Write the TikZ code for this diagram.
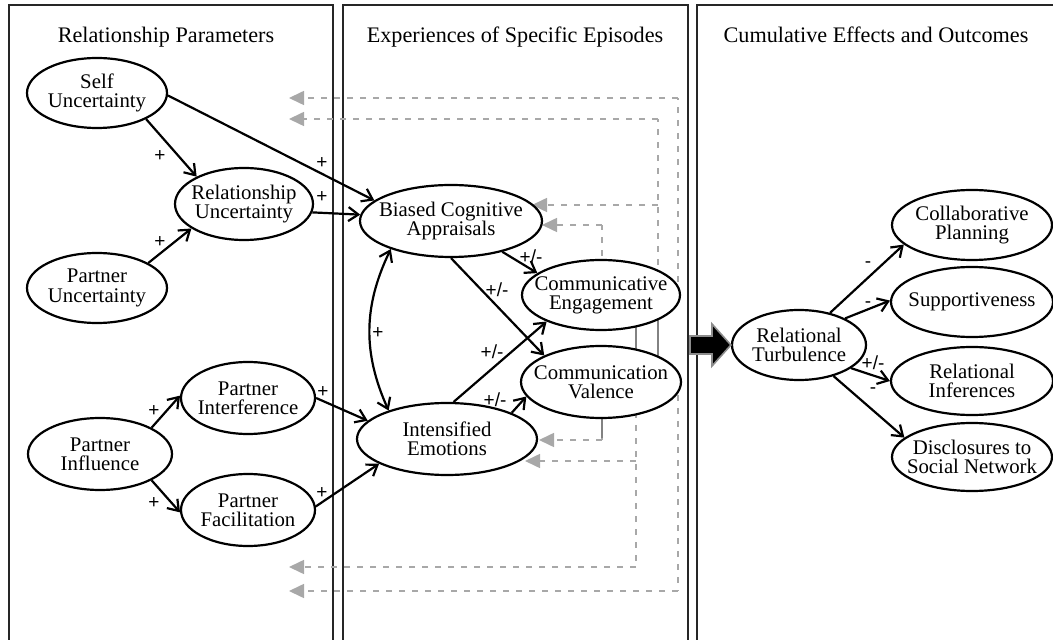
\documentclass[tikz,border=0pt]{standalone}
\usepackage{fontspec}
\setmainfont{Liberation Serif}
\newfontfamily\signfont{Liberation Sans}
\usetikzlibrary{shapes.geometric,arrows.meta,backgrounds}

\definecolor{fbgray}{RGB}{168,168,168}
\definecolor{fbbar}{RGB}{130,130,130}
\newcommand{\boxfont}{\fontsize{10.4}{9.6}\selectfont}

\tikzset{
  construct/.style 2 args={ellipse, draw, line width=1.1pt, fill=white,
    inner xsep=-40pt, inner ysep=-20pt, minimum width=#1pt, minimum height=#2pt,
    align=center, font=\boxfont},
  effect/.style={line width=1.1pt, -{Straight Barb[length=5pt,width=7pt,line width=1.1pt]}},
  fbline/.style={draw=fbgray, line width=0.8pt, dash pattern=on 3pt off 3.5pt},
  feedback/.style={fbline, -{Triangle[length=7.5pt,width=7pt]}},
  barline/.style={draw=fbbar, line width=1.2pt},
  sign/.style={font=\signfont\fontsize{9.5}{9.5}\selectfont, inner sep=0pt},
  panel/.style={draw=black!85, line width=1.2pt},
  heading/.style={font=\fontsize{11.1}{13}\selectfont, anchor=base},
}

\begin{document}
\begin{tikzpicture}[x=0.5pt, y=-0.5pt]
  \useasboundingbox (0,0) rectangle (1053,640);

  % Column headings
  \node[heading] (headParams) at (166,43) {Relationship Parameters};
  \node[heading] (headEpisodes) at (515,43) {Experiences of Specific Episodes};
  \node[heading] (headOutcomes) at (876,43) {Cumulative Effects and Outcomes};

  % Relationship parameters
  \node[construct={70}{35}] (selfunc) at (97,93) {Self\\Uncertainty};
  \node[construct={69}{36}] (relunc) at (244,204) {Relationship\\Uncertainty};
  \node[construct={70}{35}] (partunc) at (97,288) {Partner\\Uncertainty};
  \node[construct={72}{36}] (partinf) at (100,454) {Partner\\Influence};
  \node[construct={67}{36}] (partintf) at (248,398) {Partner\\Interference};
  \node[construct={67}{36}] (partfac) at (248,510) {Partner\\Facilitation};

  % Specific episodes
  \node[construct={91}{36}] (biased) at (451,221) {Biased Cognitive\\Appraisals};
  \node[construct={90}{36}] (intemo) at (447,439) {Intensified\\Emotions};
  \node[construct={79}{35}] (commeng) at (601,295) {Communicative\\Engagement};
  \node[construct={80}{36}] (commval) at (601,382) {Communication\\Valence};

  % Outcomes
  \node[construct={67}{35}] (turb) at (799,345) {Relational\\Turbulence};
  \node[construct={80}{35}] (collab) at (972,225) {Collaborative\\Planning};
  \node[construct={81}{35}] (support) at (972,302) {Supportiveness};
  \node[construct={81}{34}] (infer) at (972,381) {Relational\\Inferences};
  \node[construct={80}{34}] (discl) at (972,457) {Disclosures to\\Social Network};

  % Paths
  \draw[effect] (selfunc.-28) -- (relunc.150);
  \draw[effect] (selfunc.-2) -- (biased.165);
  \draw[effect] (relunc.-7) -- (biased.176);
  \draw[effect] (partunc.26) -- (relunc.205);
  \draw[effect] (partinf.27) -- (partintf.178);
  \draw[effect] (partinf.-27) -- (partfac.182);
  \draw[effect] (partintf.0) -- (intemo.167);
  \draw[effect] (partfac.3) -- (intemo.200);
  \draw[effect, {Straight Barb[length=5pt,width=7pt,line width=1.1pt]}-{Straight Barb[length=5pt,width=7pt,line width=1.1pt]}]
    (biased.205) to[bend right=25] (intemo.154);
  \draw[effect] (biased.-31) -- (commeng.161);
  \draw[effect] (biased.-90) -- (commval.155);
  \draw[effect] (intemo.80) -- (commeng.206);
  \draw[effect] (intemo.22) -- (commval.191);
  \draw[effect] (turb.46) -- (collab.196);
  \draw[effect] (turb.30) -- (support.179);
  \draw[effect] (turb.-24) -- (infer.180);
  \draw[effect] (turb.-42) -- (discl.164);

  % Signs
  \node[sign] (sgnA) at (160,156) {+};
  \node[sign] (sgnB) at (322,163) {+};
  \node[sign] (sgnC) at (322,197) {+};
  \node[sign] (sgnD) at (160,242) {+};
  \node[sign] (sgnE) at (154,411) {+};
  \node[sign] (sgnF) at (154,503) {+};
  \node[sign] (sgnG) at (323,392) {+};
  \node[sign] (sgnH) at (322,493) {+};
  \node[sign] (sgnI) at (378,333) {+};
  \node[sign] (sgnJ) at (531,257) {+/-};
  \node[sign] (sgnK) at (497,290) {+/-};
  \node[sign] (sgnL) at (492,352) {+/-};
  \node[sign] (sgnM) at (495,400) {+/-};
  \node[sign] (sgnN) at (868,265) {-};
  \node[sign] (sgnO) at (868,305) {-};
  \node[sign] (sgnP) at (873,363) {+/-};
  \node[sign] (sgnQ) at (873,391) {-};

  % Block arrow into turbulence
  \draw[fill=black, draw=black!45, line width=0.8pt]
    (690,336) -- (712,336) -- (712,324) -- (turb.west) -- (712,366) -- (712,354) -- (690,354) -- cycle;

  % Feedback columns and targets
  \coordinate (outerX) at (678,0);
  \coordinate (midX) at (658,0);
  \coordinate (innerX) at (636,0);
  \coordinate (nearX) at (602,0);
  \coordinate (backA) at (289,98);
  \coordinate (backB) at (289,119);
  \coordinate (backC) at (289,567);
  \coordinate (backD) at (289,591);
  \coordinate (biasedA) at (532,205);
  \coordinate (biasedB) at (542,225);
  \coordinate (emoA) at (539,440);
  \coordinate (emoB) at (525,461);

  \begin{pgfonlayer}{background}
    % panels
    \draw[panel] (9,640) -- (9,5) -- (333,5) -- (333,640);
    \draw[panel] (343,640) -- (343,5) -- (688,5) -- (688,640);
    \draw[panel] (697,640) -- (697,5) -- (1053,5);
    % feedback: vertical runs
    \draw[fbline] (commeng.center -| outerX) -- (backA -| outerX);
    \draw[fbline] (commval.center -| outerX) -- (backD -| outerX);
    \draw[fbline] (commval.center -| midX) -- (backB -| midX);
    \draw[fbline] (commeng.center -| nearX) -- (biasedB -| nearX);
    \draw[fbline] (commeng.center -| innerX) -- (backC -| innerX);
    \draw[fbline] (commval.center -| nearX) -- (emoA -| nearX);
    % feedback: returns
    \draw[feedback] (backA -| outerX) -- (backA);
    \draw[feedback] (backD -| outerX) -- (backD);
    \draw[feedback] (backB -| midX) -- (backB);
    \draw[feedback] (biasedA -| midX) -- (biasedA);
    \draw[feedback] (biasedB -| nearX) -- (biasedB);
    \draw[feedback] (backC -| innerX) -- (backC);
    \draw[feedback] (emoB -| innerX) -- (emoB);
    \draw[feedback] (emoA -| nearX) -- (emoA);
    \draw[barline] (658,318) -- (658,360);
    \draw[barline] (636,326) -- (636,354);
    \draw[barline] (602,416) -- (602,438);
  \end{pgfonlayer}
\end{tikzpicture}
\end{document}
